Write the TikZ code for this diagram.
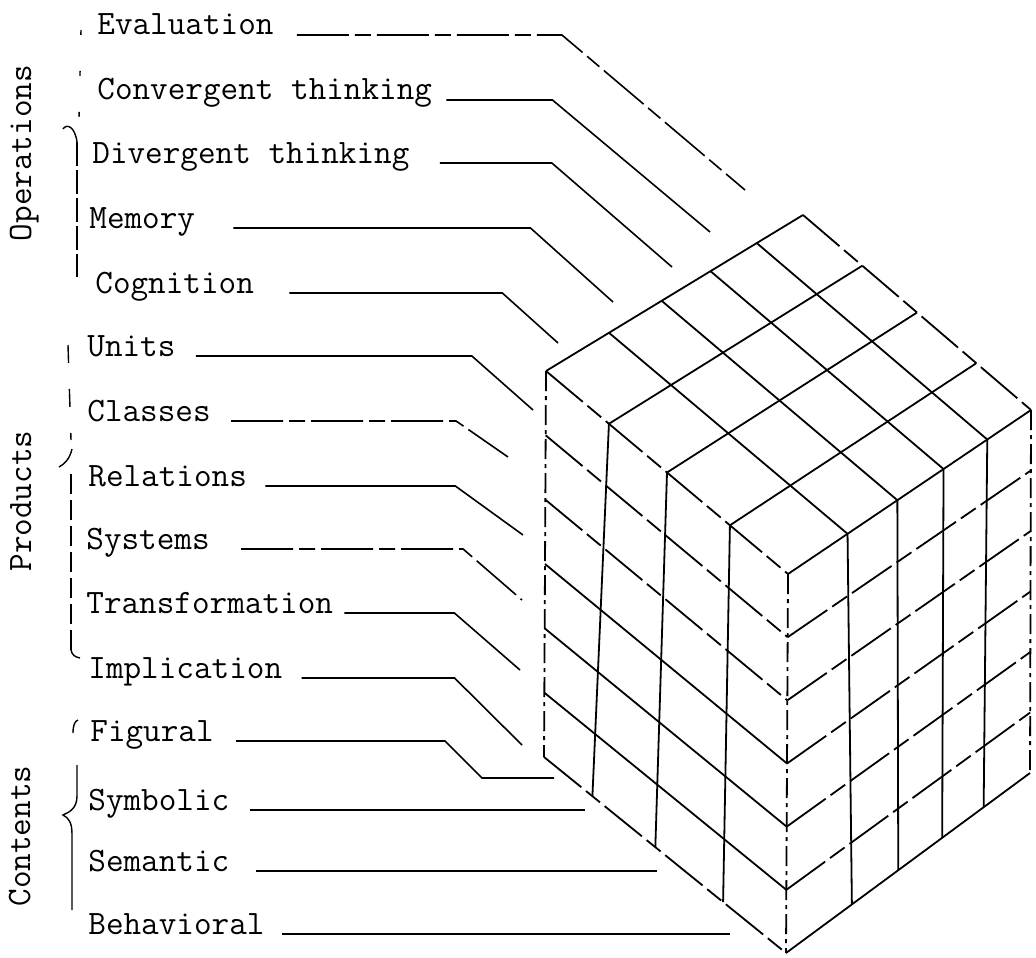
\documentclass[tikz,border=0pt]{standalone}
\usepackage{fontspec}
\usetikzlibrary{calc}

\tikzset{
  lbl/.style={font=\ttfamily\fontsize{17.1}{20}\selectfont, inner sep=0pt, anchor=base west},
  axislbl/.style={font=\ttfamily\fontsize{17.1}{20}\selectfont, inner sep=0pt, rotate=90, anchor=base},
  leader/.style={line width=0.8pt},
  leaderdash/.style={leader, dash pattern=on 26pt off 3pt on 8pt off 3pt},
  brace/.style={line width=0.7pt},
  cubeln/.style={line width=0.9pt},
  cubedash/.style={cubeln, dash pattern=on 24pt off 3pt on 9pt off 3pt},
  cubedot/.style={cubeln, dash pattern=on 10pt off 2.5pt on 2pt off 2.5pt},
}

\begin{document}
\begin{tikzpicture}[x=0.5pt, y=-0.5pt]
\useasboundingbox (0,0) rectangle (1036,957);

% Cube corners
\coordinate (T) at (803,215);
\coordinate (L) at (546,371);
\coordinate (R) at (1031,410);
\coordinate (F) at (788,574);
\coordinate (BL) at (544,757);
\coordinate (BF) at (786,953);
\coordinate (BR) at (1030,773);

% Top face
\draw[cubeln] (L) -- (T);
\draw[cubedash] (T) -- (R);
\draw[cubeln] (F) -- (R);
\draw[cubedash] (L) -- (F);
\foreach \a in {0.26,0.5,0.76}
  \draw[cubeln] ($(L)!\a!(F)$) -- ($(T)!\a!(R)$);
\foreach \a in {0.245,0.45,0.64,0.82}
  \draw[cubeln] ($(L)!\a!(T)$) -- ($(F)!\a!(R)$);

% Left face
\draw[cubedot] (L) -- (BL);
\draw[cubedot] (F) -- (BF);
\draw[cubedash] (BL) -- (BF);
\foreach \a/\b in {0.26/0.2,0.5/0.46,0.76/0.74}
  \draw[cubeln] ($(L)!\a!(F)$) -- ($(BL)!\b!(BF)$);
\foreach \k in {1,2}
  \draw[cubedash] ($(L)!{\k/6}!(BL)$) -- ($(F)!{\k/6}!(BF)$);
\foreach \k in {3,4,5}
  \draw[cubeln] ($(L)!{\k/6}!(BL)$) -- ($(F)!{\k/6}!(BF)$);

% Right face
\draw[cubedot] (R) -- (BR);
\draw[cubeln] (BF) -- (BR);
\foreach \a/\b in {0.245/0.27,0.45/0.46,0.64/0.64,0.82/0.81}
  \draw[cubeln] ($(F)!\a!(R)$) -- ($(BF)!\b!(BR)$);
\foreach \k in {1,...,5}
  \draw[cubedash] ($(F)!{\k/6}!(BF)$) -- ($(R)!{\k/6}!(BR)$);

% Group titles
\node[axislbl] (ops) at (31,153) {Operations};
\node[axislbl] (prod) at (31,501) {Products};
\node[axislbl] (cont) at (30,836) {Contents};

% Braces
\draw[brace, dash pattern=on 2.5pt off 18pt] (81,30) -- (79,118);
\draw[brace] (63,129) .. controls (67,123) and (75,127) .. (77,142);
\draw[brace, dash pattern=on 12pt off 2pt] (77,142) -- (77,277);
\draw[brace, dash pattern=on 9pt off 13pt] (68,345) -- (71,440);
\draw[brace] (72,449) .. controls (70,458) and (65,464) .. (59,467);
\draw[brace, dash pattern=on 10pt off 3pt] (71,474) -- (71,650);
\draw[brace] (71,650) .. controls (72,655) and (75,657) .. (80,658);
\draw[brace] (73,733) .. controls (73,725) and (75,721) .. (78,720);
\draw[brace] (77,765) -- (77,796) .. controls (77,808) and (70,812) .. (63,815)
  .. controls (69,818) and (72,823) .. (72,834) -- (72,910);

% Labels
\node[lbl] (ev) at (97,35) {Evaluation};
\node[lbl] (cv) at (97,100) {Convergent thinking};
\node[lbl] (dv) at (92,163) {Divergent thinking};
\node[lbl] (me) at (89,228) {Memory};
\node[lbl] (co) at (95,293) {Cognition};
\node[lbl] (un) at (87,356) {Units};
\node[lbl] (cl) at (87,421) {Classes};
\node[lbl] (re) at (88,486) {Relations};
\node[lbl] (sy) at (86,549) {Systems};
\node[lbl] (tr) at (86,613) {Transformation};
\node[lbl] (im) at (88,678) {Implication};
\node[lbl] (fi) at (90,741) {Figural};
\node[lbl] (sb) at (88,810) {Symbolic};
\node[lbl] (se) at (88,871) {Semantic};
\node[lbl] (be) at (88,934) {Behavioral};

% Leader ends
\coordinate (ev-end) at (745,190);
\coordinate (cv-end) at (710,232);
\coordinate (dv-end) at (672,267);
\coordinate (me-end) at (613,302);
\coordinate (co-end) at (558,343);
\coordinate (un-end) at (533,410);
\coordinate (cl-end) at (508,457);
\coordinate (re-end) at (523,535);
\coordinate (sy-end) at (522,600);
\coordinate (tr-end) at (520,670);
\coordinate (im-end) at (522,745);
\coordinate (fi-bend) at (482,778);
\coordinate (fi-end) at (554,778);
\coordinate (sb-end) at (585,810);
\coordinate (se-end) at (657,871);
\coordinate (be-end) at (730,934);

% Leaders
\foreach \n/\g/\h/\s in {ev/23/265/leaderdash, cv/14/106/leader, dv/30/112/leader,
    me/38/297/leader, co/35/213/leader, un/20/276/leader, cl/20/225/leaderdash,
    re/18/190/leader, sy/31/222/leaderdash, tr/11/110/leader, im/19/153/leader}
  \draw[\s] (\n.base east) ++(\g,0) -- ++(\h,0) -- (\n-end);
\draw[leader] (fi.base east) ++(22,0) -- ++(209,0) -- (fi-bend) -- (fi-end);
\foreach \n/\g in {sb/20, se/26, be/17}
  \draw[leader] (\n.base east) ++(\g,0) -- (\n-end);

\end{tikzpicture}
\end{document}
